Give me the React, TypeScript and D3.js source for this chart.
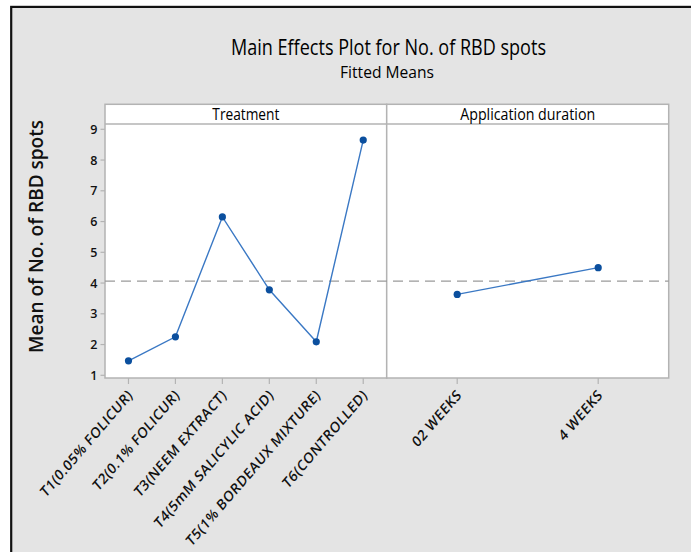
import React from 'react';
import * as d3 from 'd3';

// Factor levels and fitted means
const treatments = [
  'T1(0.05% FOLICUR)',
  'T2(0.1% FOLICUR)',
  'T3(NEEM EXTRACT)',
  'T4(5mM SALICYLIC ACID)',
  'T5(1% BORDEAUX MIXTURE)',
  'T6(CONTROLLED)',
];
const treatmentMeans = [1.47, 2.25, 6.15, 3.78, 2.09, 8.65];

const durations = ['02 WEEKS', '4 WEEKS'];
const durationMeans = [3.63, 4.5];

const yTicks = [1, 2, 3, 4, 5, 6, 7, 8, 9];

const titleText = 'Main Effects Plot for No. of RBD spots';
const subtitleText = 'Fitted Means';
const yTitle = 'Mean of No. of RBD spots';
const panelTitles = ['Treatment', 'Application duration'];

const FONT = "'Open Sans', 'Noto Sans', sans-serif";
const LINE = '#3a78c4';
const DOT = '#0b4f9e';
const FRAME = '#b3b3b3';

export default function App() {
  const W = 691;
  const H = 552;
  const panelTop = 104.3;
  const stripBottom = 124;
  const panelBottom = 378;
  const left: [number, number] = [105, 386.7];
  const right: [number, number] = [386.7, 668.7];

  const y = d3.scaleLinear().domain([1, 9]).range([375.3, 129.3]);
  const xT = d3.scalePoint<string>().domain(treatments).range(left).padding(0.5);
  const xD = d3.scalePoint<string>().domain(durations).range(right).padding(0.5);

  const grandMean = d3.mean(durationMeans) as number;

  const lineGen = d3
    .line<[number, number]>()
    .x((d) => d[0])
    .y((d) => d[1]);

  const tPts: [number, number][] = treatments.map((t, i) => [xT(t) as number, y(treatmentMeans[i])]);
  const dPts: [number, number][] = durations.map((t, i) => [xD(t) as number, y(durationMeans[i])]);

  const squish = 0.86;

  const panel = (range: [number, number], title: string, titleLen: number) => (
    <g>
      <rect x={range[0]} y={panelTop} width={range[1] - range[0]} height={panelBottom - panelTop} fill="#fff" stroke={FRAME} strokeWidth={1.5} />
      <line x1={range[0]} x2={range[1]} y1={stripBottom} y2={stripBottom} stroke={FRAME} strokeWidth={1.5} />
      <text
        x={(range[0] + range[1]) / 2}
        y={120}
        textAnchor="middle"
        fontSize={16}
        fontWeight={500}
        textLength={titleLen}
        lengthAdjust="spacingAndGlyphs"
        fill="#000"
      >
        {title}
      </text>
    </g>
  );

  const xLabel = (label: string, x: number, key: string) => (
    <g key={key}>
      <line x1={x} x2={x} y1={panelBottom} y2={384} stroke={FRAME} strokeWidth={1.2} />
      <text
        transform={`translate(${x + 5},${396}) scale(${squish},1) rotate(-45)`}
        textAnchor="end"
        fontSize={15}
        fontWeight={600}
        letterSpacing={0.5}
        fill="#111"
      >
        {label}
      </text>
    </g>
  );

  return (
    <svg width={W} height={H} style={{ position: 'absolute', left: 0, top: 0 }} fontFamily={FONT}>
      <rect x={0} y={0} width={W} height={H} fill="#fff" />
      <rect x={11.2} y={6.9} width={W + 20} height={H + 20} fill="#e4e4e4" stroke="#111" strokeWidth={2.2} />

      <text x={388.5} y={54.5} textAnchor="middle" fontSize={21} fontWeight={500} textLength={315} lengthAdjust="spacingAndGlyphs" fill="#000">
        {titleText}
      </text>
      <text x={387} y={78.3} textAnchor="middle" fontSize={17} fontWeight={500} textLength={94} lengthAdjust="spacingAndGlyphs" fill="#000">
        {subtitleText}
      </text>

      <text
        transform={`translate(43,236.5) rotate(-90)`}
        textAnchor="middle"
        fontSize={19}
        fontWeight={600}
        textLength={233}
        lengthAdjust="spacingAndGlyphs"
        fill="#111"
      >
        {yTitle}
      </text>

      {panel(left, panelTitles[0], 67)}
      {panel(right, panelTitles[1], 135)}

      {/* y axis */}
      {yTicks.map((t) => (
        <g key={t}>
          <line x1={100.5} x2={105} y1={y(t)} y2={y(t)} stroke={FRAME} strokeWidth={1.2} />
          <text x={97.5} y={y(t)} dy="0.36em" textAnchor="end" fontSize={12.5} fontWeight={600} fill="#111">
            {t}
          </text>
        </g>
      ))}

      {/* grand mean reference */}
      <line
        x1={left[0]}
        x2={right[1]}
        y1={y(grandMean)}
        y2={y(grandMean)}
        stroke="#9a9a9a"
        strokeWidth={1.2}
        strokeDasharray="10 6"
      />

      <path d={lineGen(tPts) as string} fill="none" stroke={LINE} strokeWidth={1.4} />
      <path d={lineGen(dPts) as string} fill="none" stroke={LINE} strokeWidth={1.4} />
      {tPts.concat(dPts).map((p, i) => (
        <circle key={i} cx={p[0]} cy={p[1]} r={3.6} fill={DOT} />
      ))}

      {treatments.map((t) => xLabel(t, xT(t) as number, t))}
      {durations.map((t) => xLabel(t, xD(t) as number, t))}
    </svg>
  );
}
